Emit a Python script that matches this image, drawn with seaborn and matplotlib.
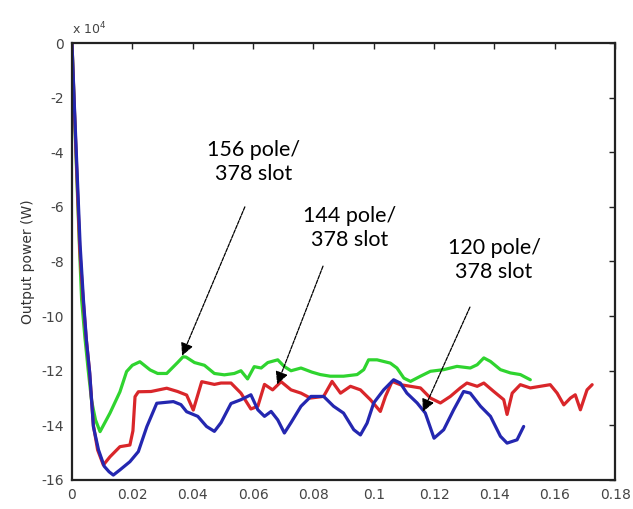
import matplotlib
matplotlib.use("Agg")
import matplotlib.pyplot as plt
import seaborn as sns
import pandas as pd

# Output power transients for three pole/slot combinations (time in s, power in 1e4 W)
green_x = [0, 0.0008, 0.0018, 0.0026, 0.0032, 0.0043, 0.0054, 0.0065, 0.0078, 0.0093,
           0.0126, 0.0159, 0.0181, 0.02, 0.0225, 0.0259, 0.0284, 0.0314, 0.035, 0.0368,
           0.0378, 0.0406, 0.0439, 0.0472, 0.0505, 0.0538, 0.056, 0.0582, 0.0604, 0.0627,
           0.0649, 0.0682, 0.0704, 0.0726, 0.0759, 0.0795, 0.0823, 0.0856, 0.09, 0.0945,
           0.0967, 0.0983, 0.1011, 0.1055, 0.1077, 0.11, 0.1122, 0.1155, 0.1188, 0.1232,
           0.1276, 0.132, 0.1343, 0.1365, 0.1387, 0.142, 0.1453, 0.1486, 0.1519]
green_y = [0, -2.5, -5.5, -7.8, -9.4, -10.8, -12.0, -13.1, -13.8, -14.23,
           -13.55, -12.77, -12.03, -11.8, -11.67, -11.97, -12.1, -12.1, -11.7, -11.49,
           -11.5, -11.7, -11.8, -12.1, -12.15, -12.1, -12.0, -12.3, -11.85, -11.9,
           -11.7, -11.6, -11.85, -12.0, -11.9, -12.05, -12.14, -12.2, -12.2, -12.14,
           -11.96, -11.6, -11.6, -11.72, -11.9, -12.27, -12.39, -12.2, -12.02, -11.96,
           -11.84, -11.9, -11.78, -11.53, -11.66, -11.96, -12.08, -12.14, -12.33]

red_x = [0, 0.0008, 0.0018, 0.0026, 0.0037, 0.0047, 0.0058, 0.0071, 0.0085, 0.0104,
         0.0126, 0.0159, 0.0192, 0.0202, 0.0209, 0.022, 0.0262, 0.0314, 0.035, 0.038,
         0.0402, 0.043, 0.0472, 0.0494, 0.0527, 0.056, 0.0593, 0.0616, 0.0638, 0.0665,
         0.0693, 0.0726, 0.0759, 0.079, 0.0834, 0.0862, 0.089, 0.0923, 0.0956, 0.0989,
         0.1022, 0.1039, 0.1061, 0.1088, 0.1122, 0.1155, 0.1188, 0.1221, 0.1254, 0.1287,
         0.1309, 0.1343, 0.1365, 0.1398, 0.1431, 0.1442, 0.1459, 0.1486, 0.1519, 0.1552,
         0.1585, 0.1608, 0.163, 0.1652, 0.1668, 0.1685, 0.1707, 0.1724]
red_y = [0, -2.4, -5.3, -7.6, -9.4, -10.8, -12.0, -14.0, -14.9, -15.45,
         -15.15, -14.78, -14.72, -14.2, -12.95, -12.77, -12.76, -12.64, -12.76, -12.89,
         -13.44, -12.4, -12.5, -12.45, -12.45, -12.82, -13.4, -13.3, -12.5, -12.7,
         -12.4, -12.7, -12.82, -13.0, -12.94, -12.39, -12.82, -12.57, -12.7, -13.06,
         -13.49, -12.94, -12.39, -12.51, -12.57, -12.63, -13.0, -13.18, -12.94, -12.63,
         -12.45, -12.57, -12.45, -12.76, -13.06, -13.6, -12.82, -12.51, -12.63, -12.57,
         -12.51, -12.82, -13.25, -13.0, -12.88, -13.43, -12.7, -12.51]

blue_x = [0, 0.0008, 0.0018, 0.0027, 0.0038, 0.0048, 0.0059, 0.0071, 0.0088, 0.0107,
          0.0123, 0.0137, 0.0159, 0.0192, 0.022, 0.0248, 0.0281, 0.0336, 0.0361, 0.038,
          0.0417, 0.0446, 0.0472, 0.0494, 0.0527, 0.056, 0.0593, 0.0616, 0.0638, 0.066,
          0.0682, 0.0704, 0.0726, 0.0759, 0.0792, 0.0834, 0.0867, 0.09, 0.0934, 0.0956,
          0.0978, 0.1, 0.1033, 0.1066, 0.1088, 0.111, 0.1144, 0.1171, 0.12, 0.1232,
          0.1265, 0.1298, 0.132, 0.1354, 0.1387, 0.142, 0.1442, 0.1475, 0.1497]
blue_y = [0, -2.3, -5.0, -7.4, -9.4, -10.9, -12.1, -14.05, -14.9, -15.5,
          -15.7, -15.82, -15.63, -15.33, -14.96, -14.05, -13.19, -13.13, -13.24, -13.5,
          -13.67, -14.04, -14.22, -13.9, -13.2, -13.06, -12.88, -13.43, -13.67, -13.49,
          -13.8, -14.28, -13.9, -13.3, -12.94, -12.94, -13.3, -13.55, -14.16, -14.35,
          -13.92, -13.18, -12.7, -12.33, -12.45, -12.82, -13.18, -13.55, -14.47, -14.16,
          -13.43, -12.76, -12.82, -13.3, -13.67, -14.4, -14.65, -14.53, -14.04]

labels = ["156 pole/\n378 slot", "144 pole/\n378 slot", "120 pole/\n378 slot"]
x_ticks = [0, 0.02, 0.04, 0.06, 0.08, 0.1, 0.12, 0.14, 0.16, 0.18]
x_tick_labels = ["0", "0.02", "0.04", "0.06", "0.08", "0.1", "0.12", "0.14", "0.16", "0.18"]
y_ticks = [-16, -14, -12, -10, -8, -6, -4, -2, 0]
y_tick_labels = ["-16", "-14", "-12", "-10", "-8", "-6", "-4", "-2", "0"]

sns.set_style("white")
plt.rcParams["axes.unicode_minus"] = False

fig = plt.figure(figsize=(6.33, 5.09), dpi=100)
ax = fig.add_axes([0.1137, 0.057, 0.858, 0.8585])

series = [
    (green_x, green_y, "#2fd42f"),
    (red_x, red_y, "#d9262a"),
    (blue_x, blue_y, "#2427b0"),
]
for xs, ys, col in series:
    df = pd.DataFrame({"t": xs, "p": ys})
    sns.lineplot(data=df, x="t", y="p", ax=ax, color=col, linewidth=2.3,
                 estimator=None, sort=False)

ax.set_xlim(0, 0.18)
ax.set_ylim(-16, 0)
ax.set_xticks(x_ticks)
ax.set_xticklabels(x_tick_labels)
ax.set_yticks(y_ticks)
ax.set_yticklabels(y_tick_labels)
ax.set_xlabel("")
ax.set_ylabel("Output power (W)", fontsize=10, color="#333333", labelpad=4)

for sp in ax.spines.values():
    sp.set_visible(True)
    sp.set_color("#222222")
    sp.set_linewidth(1.6)
ax.tick_params(direction="in", length=4, width=1.0, colors="#222222",
               top=True, right=True, labelsize=10, labelcolor="#444444", pad=6)

# scale factor label at the top of the y axis
ax.text(0.0, 1.012, r"x 10$^{4}$", transform=ax.transAxes, fontsize=9,
        color="#444444", ha="left", va="bottom")

# annotations: text, then arrow from below the text to the curve
text_pos = [(0.0603, -4.36), (0.0921, -6.77), (0.1399, -7.95)]
arrow_from = [(0.0573, -6.0), (0.0832, -8.17), (0.1319, -9.67)]
arrow_to = [(0.0365, -11.45), (0.068, -12.5), (0.1163, -13.5)]

for lab, (tx, ty), (ax0, ay0), (ax1, ay1) in zip(labels, text_pos, arrow_from, arrow_to):
    ax.text(tx, ty, lab, ha="center", va="center", fontsize=15.5,
            family="Lato", color="black", linespacing=1.25)
    ax.annotate("", xy=(ax1, ay1), xytext=(ax0, ay0),
                arrowprops=dict(arrowstyle="-|>", color="black", lw=0.9,
                                linestyle=(0, (3, 1)), mutation_scale=19,
                                shrinkA=0, shrinkB=0))

fig.savefig("out.png", dpi=100, facecolor="white")
